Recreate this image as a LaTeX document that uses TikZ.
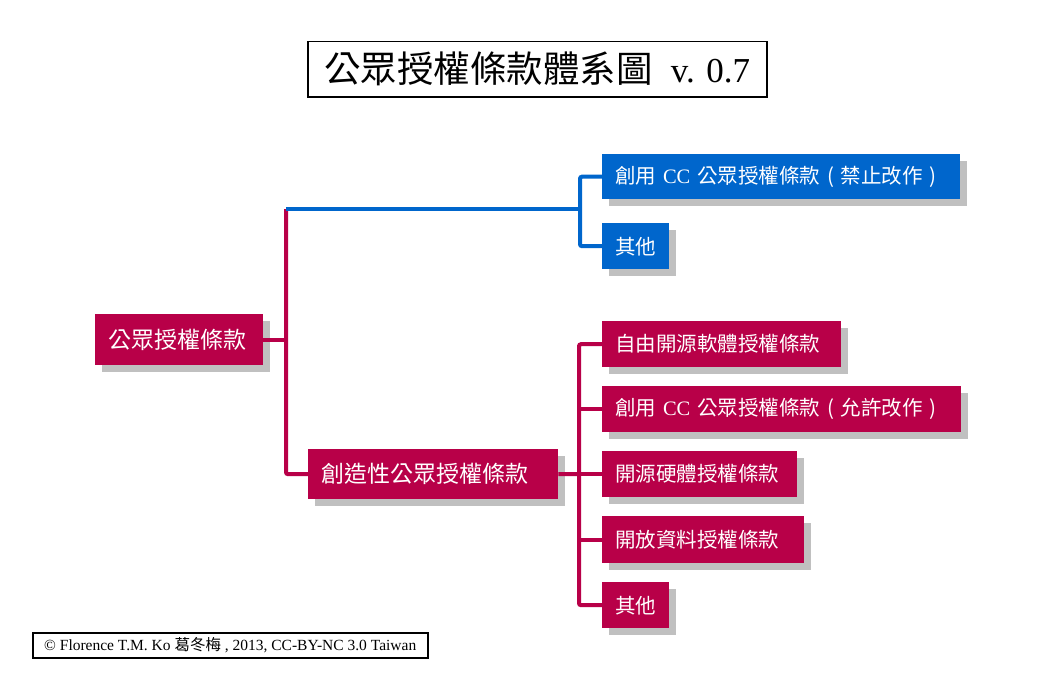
\documentclass[tikz,border=0pt]{standalone}
\usepackage{fontspec}
\setmainfont{Liberation Serif}
\newfontfamily\cjk{Noto Sans CJK TC}
\usetikzlibrary{shadows}
\definecolor{boxred}{RGB}{184,0,72}
\definecolor{boxblue}{RGB}{0,102,204}
\definecolor{shadowgray}{RGB}{192,192,192}
\tikzset{
  treebox/.style={anchor=north west, text=white, inner xsep=13pt, inner ysep=0pt,
    align=left, font=\fontsize{20.5}{24}\selectfont,
    drop shadow={shadow xshift=7pt, shadow yshift=-7pt, fill=shadowgray, opacity=1}},
  redbox/.style={treebox, fill=boxred},
  bluebox/.style={treebox, fill=boxblue},
  boxsize/.style 2 args={text width=#1, minimum height=#2},
  redline/.style={draw=boxred, line width=4pt, rounded corners=2pt},
  blueline/.style={draw=boxblue, line width=4pt, rounded corners=2pt},
}
\newcommand{\lpar}{\makebox[1em]{(}}
\newcommand{\rpar}{\makebox[1em]{)}}
\begin{document}
\begin{tikzpicture}[x=1pt,y=-1pt]
\useasboundingbox (0,0) rectangle (1041,693);
\fill[white] (0,0) rectangle (1041,693);

% title
\node[draw=black, line width=1.5pt, anchor=north west, minimum width=459pt, minimum height=55pt, inner sep=0pt,
  font=\fontsize{35}{40}\selectfont] (title) at (307,41)
  {{\cjk\fontsize{36.5}{40}\selectfont 公眾授權條款體系圖}\hspace{18pt}v. 0.7};

% nodes (text width = box width - 26pt)
\node[redbox, boxsize={142pt}{51pt}, font=\fontsize{23}{26}\selectfont] (root) at (95,314) {\cjk 公眾授權條款};
\node[redbox, boxsize={224pt}{50pt}, font=\fontsize{23}{26}\selectfont] (cre) at (308,449) {\cjk 創造性公眾授權條款};

\node[bluebox, boxsize={332pt}{45pt}] (b1) at (602,154) {{\cjk 創用} CC {\cjk 公眾授權條款\lpar 禁止改作\rpar}};
\node[bluebox, boxsize={41pt}{46pt}] (b2) at (602,223) {\cjk 其他};

\node[redbox, boxsize={213pt}{46pt}] (r1) at (602,321) {\cjk 自由開源軟體授權條款};
\node[redbox, boxsize={333pt}{46pt}] (r2) at (602,386) {{\cjk 創用} CC {\cjk 公眾授權條款\lpar 允許改作\rpar}};
\node[redbox, boxsize={169pt}{46pt}] (r3) at (602,451) {\cjk 開源硬體授權條款};
\node[redbox, boxsize={176pt}{47pt}] (r4) at (602,516) {\cjk 開放資料授權條款};
\node[redbox, boxsize={41pt}{46pt}] (r5) at (602,582) {\cjk 其他};

% junction coordinates
\coordinate (top) at (286,209);
\coordinate (bj) at (580,209);
\coordinate (rj) at (579,474);

% connectors
\draw[redline] (root.east) -- (root.east -| top);
\draw[redline] (top) |- (cre.west);
\draw[blueline, rounded corners=0pt] (top) -- (bj);
\draw[blueline] (b1.west) -| (bj) |- (b2.west);
\draw[redline] (cre.east) -- (rj);
\draw[redline] (r1.west) -| (rj) |- (r5.west);
\draw[redline] (r2.west) -- (r2.west -| rj);
\draw[redline] (r3.west) -- (r3.west -| rj);
\draw[redline] (r4.west) -- (r4.west -| rj);

% footer
\node[draw=black, line width=1.5pt, anchor=north west, minimum width=395pt, minimum height=25pt, inner sep=0pt,
  font=\fontsize{15.5}{18}\selectfont] (foot) at (32,632)
  {© Florence T.M. Ko {\cjk 葛冬梅} , 2013, CC-BY-NC 3.0 Taiwan};
\end{tikzpicture}
\end{document}
